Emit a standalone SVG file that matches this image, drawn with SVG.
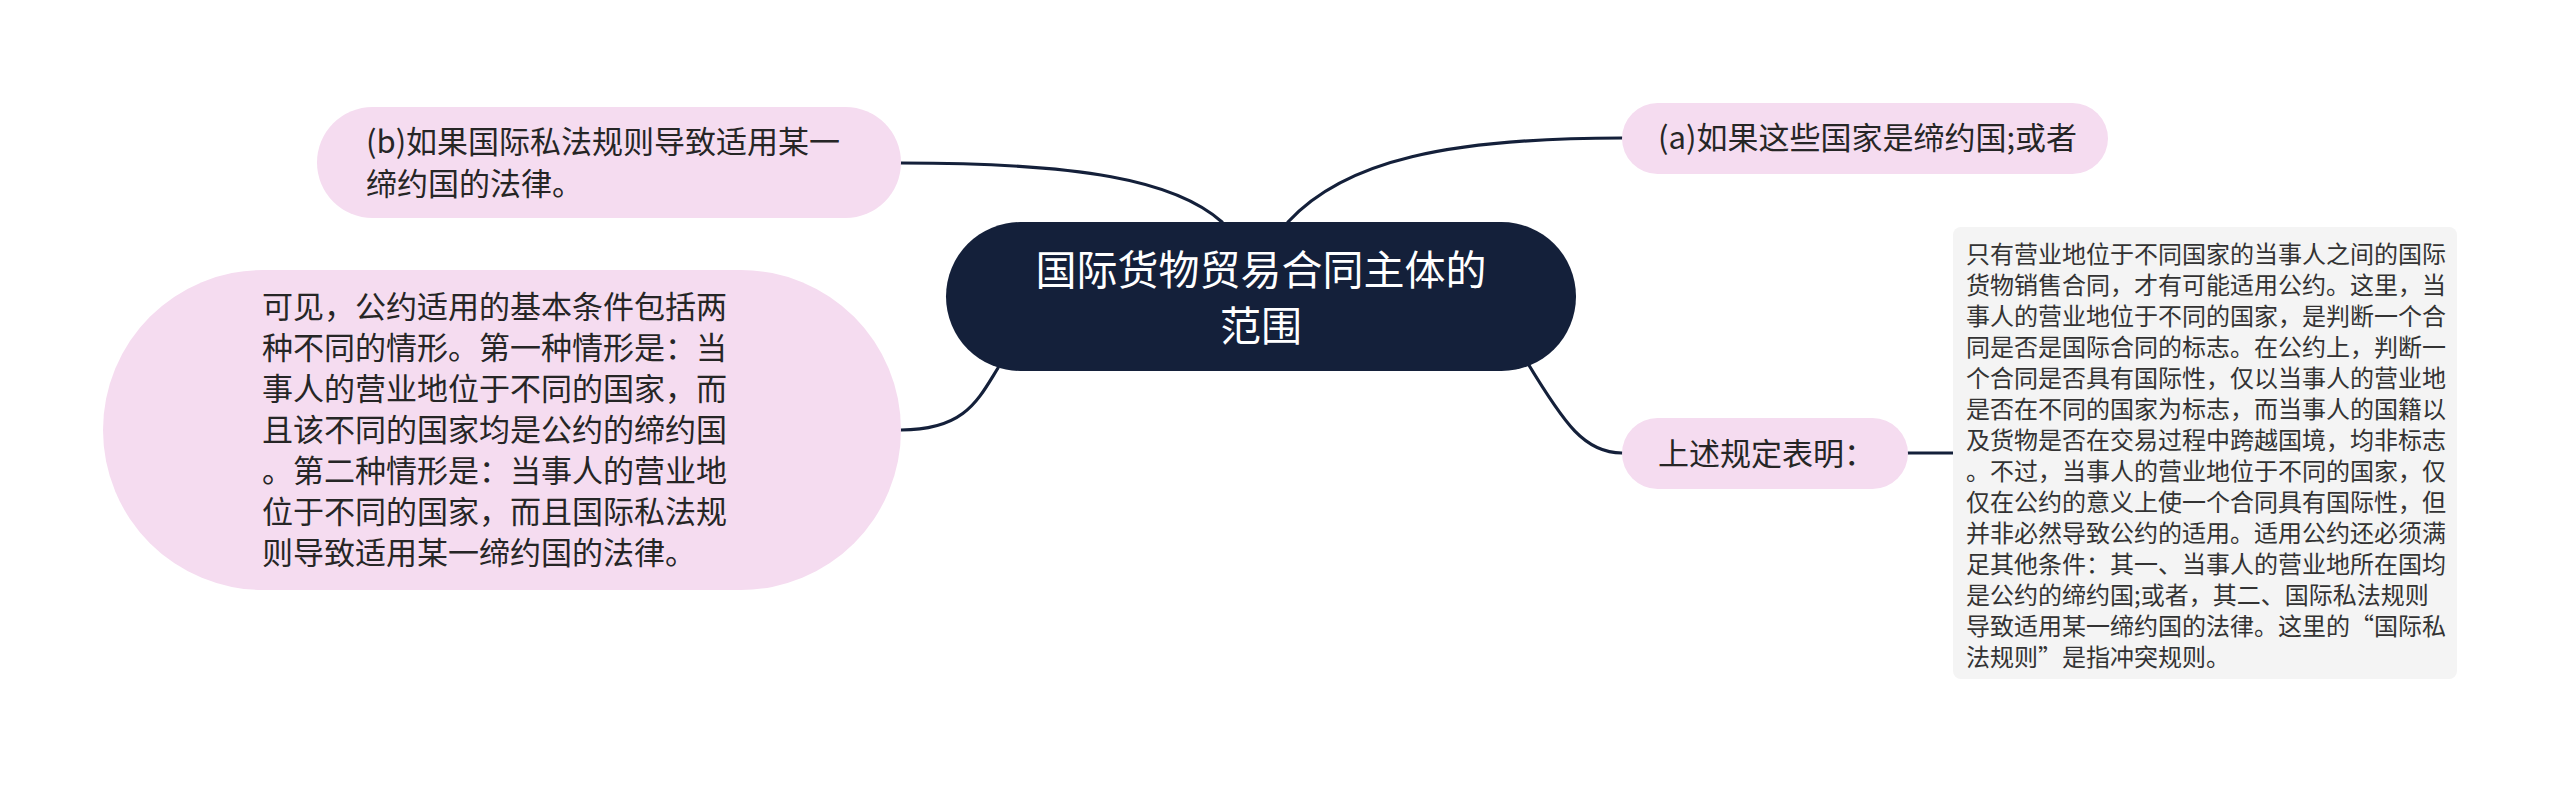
<svg xmlns="http://www.w3.org/2000/svg" width="2560" height="785" viewBox="0 0 2560 785">
<style>
text{font-family:"Noto Sans CJK SC","Noto Sans",sans-serif;}
.pink{fill:#f5dcf0;}
.pt{font-size:31px;fill:#262626;}
.ct{font-size:41px;fill:#ffffff;text-anchor:middle;}
.gt{font-size:24px;fill:#333333;}
.conn{fill:none;stroke:#14203a;stroke-width:3.2;stroke-linecap:round;}
</style>
<rect width="2560" height="785" fill="#ffffff"/>
<g id="connectors">
<path class="conn" d="M 901 163 C 1080 163, 1175 180, 1222 222"/>
<path class="conn" d="M 1288 222 C 1345 160, 1450 138, 1622 138"/>
<path class="conn" d="M 901 430 C 965 430, 978 400, 998 368"/>
<path class="conn" d="M 1527 362 C 1565 425, 1585 453, 1622 453"/>
<path class="conn" d="M 1908 453 L 1953 453"/>
</g>
<g id="center">
<rect x="946" y="222" width="630" height="149" rx="74.5" fill="#14203a"/>
<text class="ct" x="1261" y="285">国际货物贸易合同主体的</text>
<text class="ct" x="1261" y="341">范围</text>
</g>
<g id="node-b">
<rect class="pink" x="317" y="107" width="584" height="111" rx="55.5"/>
<text class="pt" x="366" y="153">(b)如果国际私法规则导致适用某一</text>
<text class="pt" x="366" y="195">缔约国的法律。</text>
</g>
<g id="node-a">
<rect class="pink" x="1622" y="103" width="486" height="71" rx="35.5"/>
<text class="pt" x="1658" y="149">(a)如果这些国家是缔约国;或者</text>
</g>
<g id="node-conclusion">
<rect class="pink" x="103" y="270" width="798" height="320" rx="160"/>
<text class="pt" x="262" y="318">可见，公约适用的基本条件包括两</text>
<text class="pt" x="262" y="359">种不同的情形。第一种情形是：当</text>
<text class="pt" x="262" y="400">事人的营业地位于不同的国家，而</text>
<text class="pt" x="262" y="441">且该不同的国家均是公约的缔约国</text>
<text class="pt" x="262" y="482">。第二种情形是：当事人的营业地</text>
<text class="pt" x="262" y="523">位于不同的国家，而且国际私法规</text>
<text class="pt" x="262" y="564">则导致适用某一缔约国的法律。</text>
</g>
<g id="node-rule">
<rect class="pink" x="1622" y="418" width="286" height="71" rx="35.5"/>
<text class="pt" x="1658" y="465">上述规定表明：</text>
</g>
<g id="node-detail">
<rect x="1953" y="227" width="504" height="452" rx="8" fill="#f4f4f4"/>
<text class="gt" x="1966" y="263">只有营业地位于不同国家的当事人之间的国际</text>
<text class="gt" x="1966" y="294">货物销售合同，才有可能适用公约。这里，当</text>
<text class="gt" x="1966" y="325">事人的营业地位于不同的国家，是判断一个合</text>
<text class="gt" x="1966" y="356">同是否是国际合同的标志。在公约上，判断一</text>
<text class="gt" x="1966" y="387">个合同是否具有国际性，仅以当事人的营业地</text>
<text class="gt" x="1966" y="418">是否在不同的国家为标志，而当事人的国籍以</text>
<text class="gt" x="1966" y="449">及货物是否在交易过程中跨越国境，均非标志</text>
<text class="gt" x="1966" y="480">。不过，当事人的营业地位于不同的国家，仅</text>
<text class="gt" x="1966" y="511">仅在公约的意义上使一个合同具有国际性，但</text>
<text class="gt" x="1966" y="542">并非必然导致公约的适用。适用公约还必须满</text>
<text class="gt" x="1966" y="573">足其他条件：其一、当事人的营业地所在国均</text>
<text class="gt" x="1966" y="604">是公约的缔约国;或者，其二、国际私法规则</text>
<text class="gt" x="1966" y="635">导致适用某一缔约国的法律。这里的“国际私</text>
<text class="gt" x="1966" y="666">法规则”是指冲突规则。</text>
</g>
</svg>
